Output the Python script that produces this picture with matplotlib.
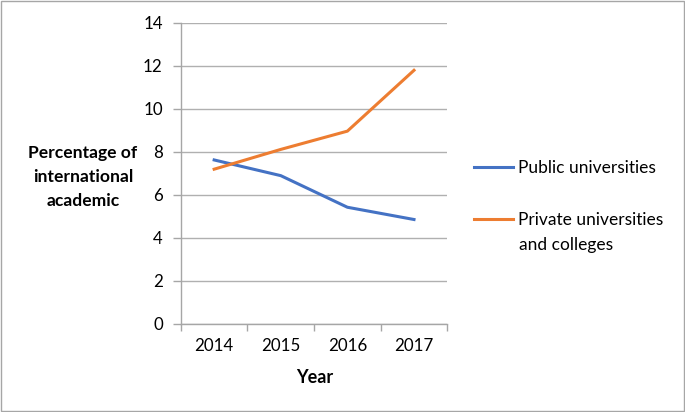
import matplotlib.pyplot as plt
from matplotlib.patches import Rectangle

years = ["2014", "2015", "2016", "2017"]
public = [7.63, 6.9, 5.43, 4.86]
private = [7.2, 8.12, 8.97, 11.8]

plt.rcParams['font.family'] = ['Lato', 'DejaVu Sans']

fig = plt.figure(figsize=(6.85, 4.12), dpi=100)
ax = fig.add_axes([0.264, 0.2136, 0.389, 0.7306])

x = list(range(len(years)))
ax.plot(x, public, color='#4472C4', linewidth=2.2, label='Public universities')
ax.plot(x, private, color='#ED7D31', linewidth=2.2, label='Private universities')

ax.set_xlim(-0.5, 3.5)
ax.set_ylim(0, 14)
ax.set_yticks(range(0, 15, 2))
ax.set_xticks(x)
ax.set_xticklabels(years)
ax.set_xticks([-0.5, 0.5, 1.5, 2.5, 3.5], minor=True)
ax.tick_params(axis='x', which='major', length=0, pad=10, labelsize=12.2, colors='#000000')
ax.tick_params(axis='x', which='minor', length=5, color='#a6a6a6', width=1)
ax.tick_params(axis='y', length=6, color='#a6a6a6', width=1, pad=7, labelsize=12.2)

ax.grid(axis='y', color='#b0b0b0', linewidth=1)
ax.set_axisbelow(True)
for s in ['top', 'right']:
    ax.spines[s].set_visible(False)
for s in ['left', 'bottom']:
    ax.spines[s].set_color('#a6a6a6')
    ax.spines[s].set_linewidth(1)

fig.text(0.121, 0.570, "Percentage of\ninternational\nacademic", ha='center', va='center',
         fontsize=12.6, fontweight='bold', linespacing=1.6)
fig.text(0.459, 0.083, "Year", ha='center', va='center', fontsize=13, fontweight='bold')

leg = fig.legend(loc='upper left', bbox_to_anchor=(0.669, 0.65), frameon=False, fontsize=12.5,
                 handlelength=2.25, handletextpad=0.3, labelspacing=2.1)
# second line of the private label sits under the text, as in the original
fig.text(0.757, 0.405, "and colleges", ha='left', va='center', fontsize=12.5)

fig.patches.append(Rectangle((0.0015, 0.0025), 0.997, 0.995, transform=fig.transFigure,
                             fill=False, edgecolor='#a6a6a6', linewidth=1))

fig.savefig('out.png', dpi=100)
